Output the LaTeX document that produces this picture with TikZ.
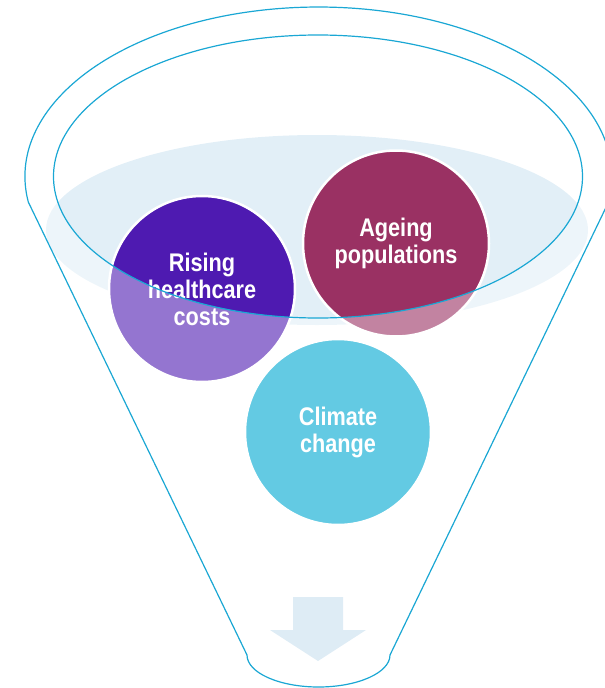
\documentclass[tikz,border=0pt]{standalone}
\usepackage{fontspec}
\newfontfamily\lab{Liberation Sans}[FakeStretch=0.85]
\definecolor{purpleC}{RGB}{78,26,177}
\definecolor{maroonC}{RGB}{154,49,99}
\definecolor{cyanC}{RGB}{99,202,227}
\definecolor{lightC}{RGB}{226,239,247}
\definecolor{lineC}{RGB}{26,167,212}
\definecolor{arrowC}{RGB}{222,236,245}
\tikzset{
  bubble/.style={circle, draw=white, line width=2.5pt, minimum size=186pt, inner sep=0pt,
    text=white, align=center, font=\lab\bfseries\fontsize{25.5}{27}\selectfont},
  funnel/.style={draw=lineC, line width=1.2pt},
}
\begin{document}
\begin{tikzpicture}[x=1pt,y=-1pt]
\useasboundingbox (0,0) rectangle (605,688);
% liquid surface
\fill[lightC] (317,230) ellipse [x radius=271, y radius=95];
% bubbles behind the front wall
\node[bubble, fill=purpleC] (rising) at (202,289) {Rising\\healthcare\\costs};
\node[bubble, fill=maroonC] (ageing) at (396,243.5) {Ageing\\populations};
% translucent front wall of the funnel
\begin{scope}
  \clip (0,176.5) rectangle (605,688);
  \fill[white, opacity=0.4, even odd rule] (0,0) rectangle (605,688)
    (318,176.5) ellipse [x radius=264.5, y radius=141.5];
\end{scope}
% bubble in front
\node[bubble, fill=cyanC] (climate) at (338,432) {Climate\\change};
% arrow
\fill[arrowC] (293,597) -- (343,597) -- (343,630) -- (366,630) -- (318,661)
  -- (270,630) -- (293,630) -- cycle;
% funnel outline
\draw[funnel, line join=round] (28.3,202)
  arc[start angle=171.35, end angle=368.65, x radius=293.5, y radius=169.5]
  -- (390,655)
  arc[start angle=0, end angle=180, x radius=71.5, y radius=32]
  -- cycle;
% inner rim
\draw[funnel] (318,176.5) ellipse [x radius=264.5, y radius=141.5];
\end{tikzpicture}
\end{document}
